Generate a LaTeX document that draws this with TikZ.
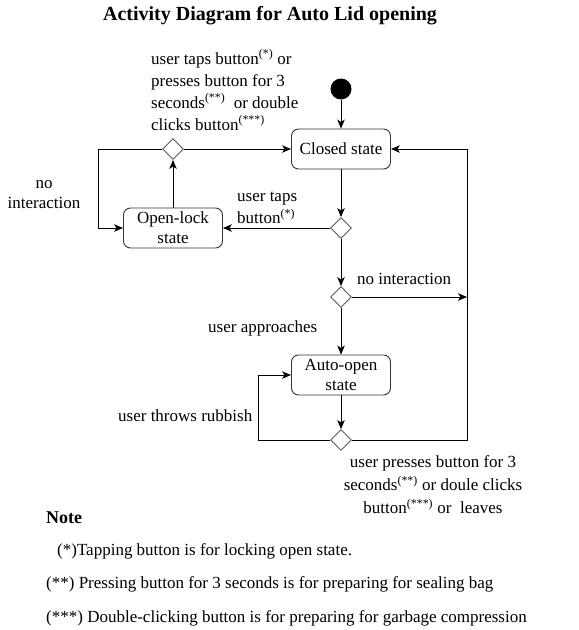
\documentclass[tikz,border=0pt]{standalone}
\usepackage{fontspec}
\setmainfont{Liberation Serif}
\usetikzlibrary{shapes.geometric,arrows.meta}
\begin{document}
\begin{tikzpicture}[x=1pt,y=-1pt,
  txt/.style={font=\fontsize{17}{22}\selectfont, inner sep=0pt},
  state/.style={draw=black!80, rounded corners=7pt, minimum width=99pt, minimum height=40pt, align=center, font=\fontsize{17}{20}\selectfont, inner sep=0pt, line width=0.9pt},
  dec/.style={diamond, draw=black!65, minimum width=21pt, minimum height=21pt, inner sep=0pt, line width=0.9pt},
  arr/.style={-{Stealth[length=9pt,width=7.5pt,inset=2.5pt]}, line width=0.9pt},
  ln/.style={line width=0.9pt}]
\useasboundingbox (0,0) rectangle (579,630);
% title
\node[font=\fontsize{20}{24}\selectfont\bfseries, inner sep=0pt] (title) at (270,16) {Activity Diagram for Auto Lid opening};
% nodes
\node[circle, fill=black, minimum size=21pt, inner sep=0pt] (init) at (341,89) {};
\node[state] (closed) at (341,149) {Closed state};
\node[dec] (d1) at (173,149) {};
\node[state] (open) at (173,228) {Open-lock\\state};
\node[dec] (d2) at (341,228) {};
\node[dec] (d3) at (341,297) {};
\node[state] (auto) at (341,375) {Auto-open\\state};
\node[dec] (d4) at (341,440) {};
\coordinate (c1) at (98,149);
\coordinate (c2) at (258,440);
\coordinate (c3) at (467,440);
\coordinate (c4) at (467,297);
% connectors
\draw[arr] (init) -- (closed);
\draw[arr] (closed) -- (d2);
\draw[arr] (d2) -- (d3);
\draw[arr] (d3) -- (auto);
\draw[arr] (auto) -- (d4);
\draw[arr] (d2) -- (open);
\draw[arr] (open) -- (d1);
\draw[arr] (d1) -- (closed);
\draw[arr] (d1.west) -- (c1) |- (open.west);
\draw[arr] (d4.west) -- (c2) |- (auto.west);
\draw[arr] (d4.east) -- (c3) |- (closed.east);
\draw[arr] (d3.east) -- (c4);
% labels
\node[txt, anchor=west, align=left] (l1) at (151,90) {user taps button\textsuperscript{(*)} or\\presses button for 3\\seconds\textsuperscript{(**)}~ or double\\clicks button\textsuperscript{(***)}};
\node[txt, align=center, font=\fontsize{17}{20}\selectfont] (l2) at (44,195) {no\\interaction};
\node[txt, anchor=west, align=left] (l3) at (237,208) {user taps\\button\textsuperscript{(*)}};
\node[txt, anchor=west] (l4) at (357,279) {no interaction};
\node[txt, anchor=west] (l5) at (208,328) {user approaches};
\node[txt, anchor=west] (l6) at (118,416) {user throws rubbish};
\node[txt, align=center, font=\fontsize{17}{23}\selectfont] (l7) at (433,485) {user presses button for 3\\seconds\textsuperscript{(**)} or doule clicks\\button\textsuperscript{(***)} or~ leaves};
% notes
\node[txt, anchor=west, font=\fontsize{18}{22}\selectfont\bfseries] (note) at (46,518) {Note};
\node[txt, anchor=west] (n1) at (57,551) {(*)Tapping button is for locking open state.};
\node[txt, anchor=west] (n2) at (46,584) {(**) Pressing button for 3 seconds is for preparing for sealing bag};
\node[txt, anchor=west] (n3) at (46,618) {(***) Double-clicking button is for preparing for garbage compression};
\end{tikzpicture}
\end{document}
